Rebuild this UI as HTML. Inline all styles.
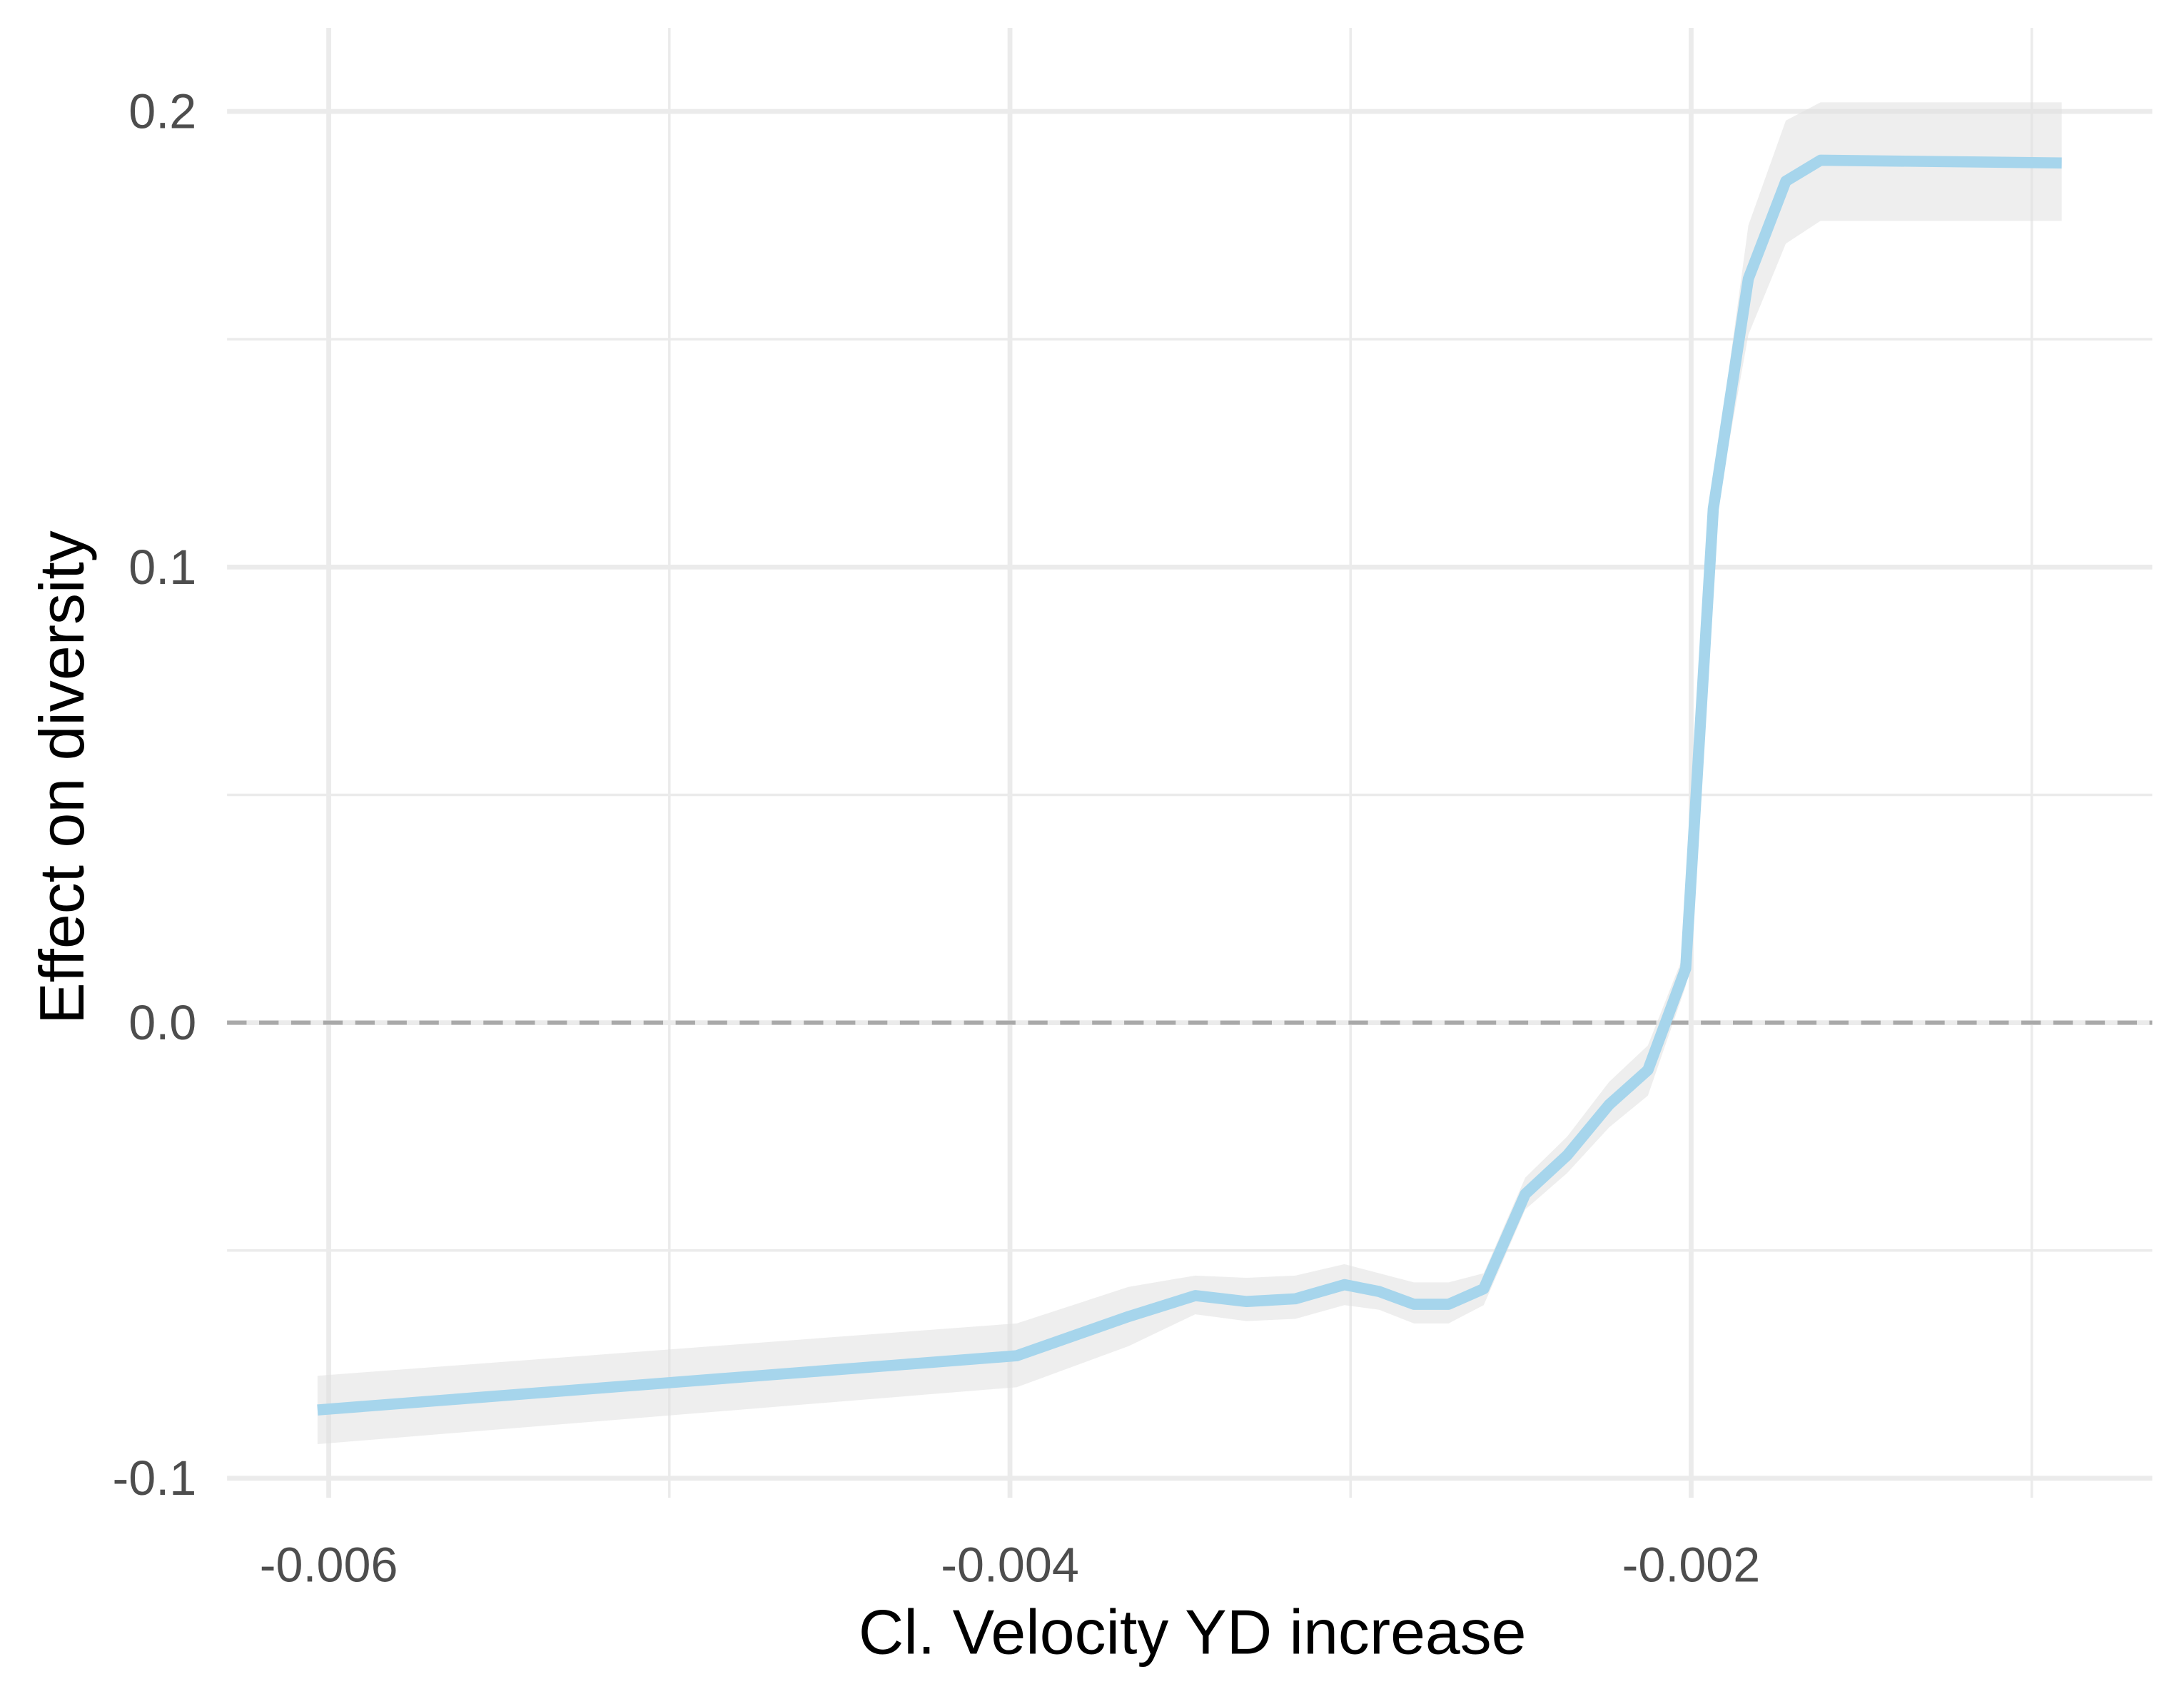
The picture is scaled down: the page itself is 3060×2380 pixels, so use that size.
<!DOCTYPE html>
<html><head><meta charset="utf-8"><style>
html,body{margin:0;padding:0;background:#fff;}
svg{display:block;font-family:"Liberation Sans",Arial,sans-serif;}
</style></head><body>
<svg id="chart" width="3060" height="2380" viewBox="0 0 1567.8 1219.4" xmlns="http://www.w3.org/2000/svg">
<g id="grid"></g>
<g id="band"></g>
<g id="zero"></g>
<g id="series"></g>
<g id="axes"></g>
<text x="856" y="1187" font-size="45" text-anchor="middle" fill="#000">Cl. Velocity YD increase</text>
<text transform="translate(60,558) rotate(-90)" font-size="45" text-anchor="middle" fill="#000">Effect on diversity</text>
</svg>
<script>
const xVals = [-0.006033,-0.00398,-0.003652,-0.003456,-0.003305,-0.003162,-0.003018,-0.002916,-0.002814,-0.002712,-0.002609,-0.002487,-0.002364,-0.002241,-0.002127,-0.002016,-0.001935,-0.001832,-0.001722,-0.00162,-0.000912];
const yVals = [-0.085,-0.0731,-0.0645,-0.0599,-0.0612,-0.0606,-0.0575,-0.059,-0.0618,-0.0618,-0.0584,-0.0376,-0.0291,-0.018,-0.0104,0.0119,0.1128,0.1633,0.1847,0.1893,0.1887];
const upperVals = [-0.0775,-0.066,-0.058,-0.0555,-0.056,-0.0555,-0.053,-0.055,-0.057,-0.057,-0.055,-0.034,-0.025,-0.013,-0.005,0.016,0.118,0.175,0.198,0.202,0.202];
const lowerVals = [-0.0925,-0.080,-0.071,-0.064,-0.0655,-0.065,-0.062,-0.063,-0.066,-0.066,-0.062,-0.041,-0.033,-0.023,-0.016,0.008,0.108,0.151,0.171,0.176,0.176];
const xTicks = [-0.006,-0.004,-0.002];
const xTickLabels = ["-0.006","-0.004","-0.002"];
const xMinor = [-0.005,-0.003,-0.001];
const yTicks = [-0.1,0.0,0.1,0.2];
const yTickLabels = ["-0.1","0.0","0.1","0.2"];
const yMinor = [-0.05,0.05,0.15];

const NS="http://www.w3.org/2000/svg";
const X0=163,X1=1545,Y0=20,Y1=1075;
function sx(v){return 236+(v+0.006)*244500;}
function sy(v){return 734-v*3270;}
function mk(tag,attrs,parent){const e=document.createElementNS(NS,tag);for(const k in attrs)e.setAttribute(k,attrs[k]);document.getElementById(parent).appendChild(e);return e;}

yMinor.forEach(v=>{const e=mk('line',{x1:X0,x2:X1,y1:sy(v),y2:sy(v),stroke:'#ebebeb','stroke-width':1.8},'grid');

});
xMinor.forEach(v=>{const e=mk('line',{x1:sx(v),x2:sx(v),y1:Y0,y2:Y1,stroke:'#ebebeb','stroke-width':1.8},'grid');

});
yTicks.forEach((v,i)=>{const e=mk('line',{x1:X0,x2:X1,y1:sy(v),y2:sy(v),stroke:'#ebebeb','stroke-width':3.5},'grid');


const t=mk('text',{x:141,y:sy(v)+12,'font-size':35,'text-anchor':'end',fill:'#4d4d4d'},'axes');t.textContent=yTickLabels[i];

});
xTicks.forEach((v,i)=>{const e=mk('line',{x1:sx(v),x2:sx(v),y1:Y0,y2:Y1,stroke:'#ebebeb','stroke-width':3.5},'grid');


const t=mk('text',{x:sx(v),y:1135,'font-size':35,'text-anchor':'middle',fill:'#4d4d4d'},'axes');t.textContent=xTickLabels[i];

});

let d='';xVals.forEach((x,i)=>{d+=(i?'L':'M')+sx(x)+','+sy(upperVals[i]);});
for(let i=xVals.length-1;i>=0;i--)d+='L'+sx(xVals[i])+','+sy(lowerVals[i]);
const b=mk('path',{d:d+'Z',fill:'#e0e0e0','fill-opacity':0.55},'band');



const z=mk('line',{x1:X0,x2:X1,y1:sy(0),y2:sy(0),stroke:'#a9a9a9','stroke-width':3,'stroke-dasharray':'14,9'},'zero');



let p='';xVals.forEach((x,i)=>{p+=(i?'L':'M')+sx(x)+','+sy(yVals[i]);});
const l=mk('path',{d:p,fill:'none',stroke:'#a6d5ec','stroke-width':8,'stroke-linejoin':'round'},'series');


</script>
</body></html>
